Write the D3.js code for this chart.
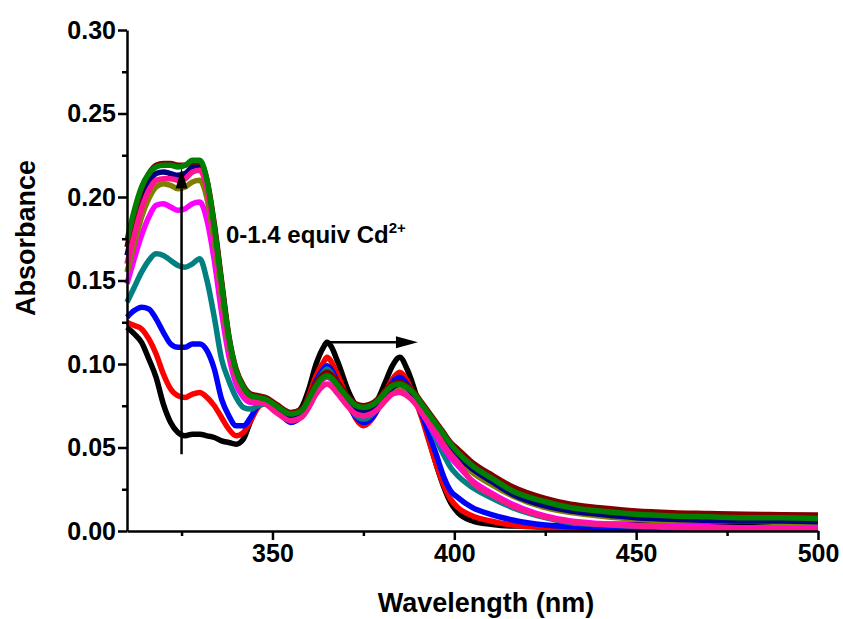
<!DOCTYPE html>
<html>
<head>
<meta charset="utf-8">
<script src="https://cdn.jsdelivr.net/npm/d3@7"></script>
<style>
  html, body { margin: 0; padding: 0; background: #fff; }
  svg { display: block; }
  text { font-family: "Liberation Sans", Arial, sans-serif; font-weight: bold; fill: #000; }
</style>
</head>
<body>
<svg id="chart" width="843" height="619"></svg>
<script>
// Wavelength grid (nm) shared by every spectrum
const wavelengths = [310,312,314,316,318,320,322,324,326,328,330,332,334,336,338,340,342,344,346,348,351,355,358,360,362,364,365,366,368,371,373,375,377,379,381,383,385,387,389,391,393,395,397,399,401,405,410,416,425,432,440,450,460,470,480,490,500];

// Absorbance spectra during the Cd2+ titration (0 → 1.4 equiv)
const abs00 = [0.122,0.118,0.113,0.103,0.092,0.076,0.065,0.059,0.057,0.058,0.058,0.057,0.056,0.054,0.053,0.052,0.055,0.066,0.075,0.078,0.074,0.069,0.074,0.085,0.100,0.110,0.113,0.111,0.101,0.083,0.075,0.072,0.073,0.079,0.089,0.099,0.104,0.097,0.085,0.070,0.055,0.040,0.027,0.017,0.011,0.006,0.004,0.003,0.003,0.004,0.004,0.004,0.005,0.005,0.005,0.005,0.005];
const abs02 = [0.125,0.123,0.121,0.115,0.106,0.094,0.085,0.081,0.080,0.082,0.083,0.080,0.075,0.068,0.061,0.057,0.059,0.066,0.074,0.077,0.073,0.066,0.071,0.081,0.093,0.101,0.104,0.102,0.093,0.077,0.067,0.063,0.066,0.073,0.083,0.091,0.095,0.090,0.080,0.068,0.054,0.040,0.028,0.019,0.014,0.009,0.006,0.0036,0.002,0.0015,0.001,0.001,0.001,0.001,0.001,0.001,0.001];
const abs04 = [0.128,0.132,0.134,0.133,0.127,0.119,0.112,0.110,0.110,0.112,0.112,0.108,0.097,0.079,0.069,0.063,0.063,0.068,0.075,0.077,0.073,0.065,0.069,0.078,0.090,0.097,0.099,0.097,0.089,0.075,0.068,0.065,0.067,0.073,0.082,0.089,0.092,0.088,0.080,0.070,0.058,0.046,0.033,0.024,0.020,0.014,0.010,0.0066,0.0036,0.0025,0.0015,0.001,0.001,0.001,0.001,0.001,0.001];
const abs06 = [0.137,0.146,0.155,0.162,0.166,0.165,0.162,0.159,0.158,0.160,0.163,0.150,0.128,0.103,0.090,0.080,0.074,0.073,0.075,0.076,0.072,0.066,0.069,0.077,0.088,0.095,0.097,0.095,0.088,0.076,0.069,0.067,0.069,0.074,0.081,0.086,0.088,0.085,0.080,0.073,0.064,0.055,0.046,0.038,0.033,0.026,0.020,0.014,0.008,0.005,0.004,0.003,0.003,0.002,0.002,0.002,0.002];
const abs08 = [0.148,0.163,0.177,0.188,0.195,0.196,0.194,0.192,0.193,0.196,0.197,0.186,0.162,0.131,0.105,0.088,0.080,0.077,0.077,0.077,0.072,0.067,0.069,0.076,0.085,0.091,0.092,0.091,0.085,0.075,0.070,0.069,0.070,0.074,0.080,0.084,0.086,0.083,0.078,0.071,0.064,0.057,0.050,0.044,0.039,0.030,0.023,0.016,0.009,0.006,0.0045,0.0035,0.003,0.0025,0.002,0.002,0.002];
const abs10 = [0.155,0.172,0.188,0.199,0.206,0.208,0.207,0.205,0.206,0.209,0.210,0.199,0.173,0.140,0.110,0.092,0.083,0.079,0.078,0.078,0.073,0.068,0.070,0.077,0.086,0.092,0.093,0.092,0.086,0.077,0.072,0.071,0.072,0.076,0.081,0.085,0.087,0.085,0.080,0.074,0.067,0.060,0.054,0.048,0.043,0.035,0.028,0.021,0.014,0.011,0.009,0.007,0.006,0.006,0.006,0.005,0.005];
const abs12 = [0.165,0.183,0.199,0.209,0.214,0.215,0.214,0.213,0.214,0.218,0.219,0.208,0.182,0.148,0.115,0.095,0.085,0.080,0.079,0.078,0.074,0.069,0.071,0.078,0.087,0.093,0.094,0.093,0.087,0.078,0.073,0.072,0.073,0.077,0.082,0.086,0.088,0.086,0.081,0.075,0.069,0.062,0.056,0.050,0.045,0.037,0.030,0.022,0.015,0.012,0.010,0.008,0.007,0.0065,0.006,0.006,0.0055];
const abs13 = [0.170,0.189,0.205,0.214,0.219,0.220,0.220,0.219,0.219,0.221,0.221,0.210,0.184,0.150,0.117,0.097,0.087,0.082,0.081,0.080,0.076,0.071,0.073,0.080,0.089,0.094,0.095,0.094,0.089,0.080,0.076,0.075,0.076,0.079,0.084,0.088,0.089,0.087,0.083,0.077,0.071,0.065,0.059,0.053,0.049,0.041,0.034,0.0265,0.0195,0.016,0.014,0.012,0.011,0.0105,0.010,0.0098,0.0096];
const abs11 = [0.160,0.177,0.193,0.204,0.210,0.211,0.211,0.210,0.211,0.215,0.216,0.205,0.178,0.144,0.112,0.093,0.083,0.078,0.077,0.076,0.071,0.066,0.068,0.074,0.082,0.087,0.088,0.087,0.082,0.074,0.070,0.069,0.070,0.073,0.078,0.082,0.083,0.081,0.077,0.071,0.065,0.059,0.052,0.046,0.041,0.029,0.022,0.015,0.0085,0.0055,0.004,0.003,0.002,0.0015,0.001,0.001,0.001];
const abs14 = [0.174,0.192,0.206,0.214,0.218,0.219,0.219,0.218,0.219,0.222,0.222,0.210,0.182,0.148,0.116,0.096,0.086,0.081,0.080,0.079,0.075,0.070,0.072,0.079,0.087,0.092,0.093,0.092,0.087,0.079,0.075,0.074,0.075,0.078,0.083,0.087,0.088,0.086,0.082,0.076,0.070,0.064,0.058,0.052,0.047,0.039,0.032,0.024,0.0175,0.014,0.012,0.010,0.009,0.0085,0.008,0.008,0.0075];

// Drawing order and colours (last one ends up on top)
const spectra = [abs00, abs02, abs04, abs06, abs08, abs10, abs12, abs13, abs11, abs14];
const colours = ["#000000", "#ff0000", "#0000ff", "#008080", "#ff00ff", "#808000", "#000080", "#800000", "#ff1493", "#008000"];

// Axis ticks
const xMajor = [350, 400, 450, 500];
const xMinor = [325, 375, 425, 475];
const yMajor = [0, 0.05, 0.10, 0.15, 0.20, 0.25, 0.30];
const yMinor = [0.025, 0.075, 0.125, 0.175, 0.225, 0.275];

// Annotation arrows: [x1, y1, x2, y2] in data units, the tip is the second point
const riseArrow = [325, 0.046, 325, 0.217];
const shiftArrow = [365, 0.113, 390, 0.113];

const svg = d3.select("#chart");
const x = d3.scaleLinear().domain([310, 500]).range([127, 818]);
const y = d3.scaleLinear().domain([0, 0.30]).range([531, 30]);

// Spectra
const line = d3.line()
  .x((d, i) => x(wavelengths[i]))
  .y(d => y(d))
  .curve(d3.curveMonotoneX);

svg.append("g")
  .selectAll("path")
  .data(spectra)
  .join("path")
  .attr("d", line)
  .attr("fill", "none")
  .attr("stroke", (d, i) => colours[i])
  .attr("stroke-width", 5.5)
  .attr("stroke-linejoin", "round")
  .attr("stroke-linecap", "butt");

// Axes
function styleAxis(g) {
  g.selectAll(".domain").attr("stroke", "#000").attr("stroke-width", 2.5);
  g.selectAll(".tick line").attr("stroke", "#000").attr("stroke-width", 2.5);
  g.selectAll("text").style("font-size", "25px").style("font-weight", "bold")
    .attr("font-family", "Liberation Sans, Arial, sans-serif");
}

const gx = svg.append("g").attr("transform", `translate(0,${y(0)})`);
gx.call(d3.axisBottom(x).tickValues(xMajor).tickSize(9).tickSizeOuter(0).tickPadding(4).tickFormat(d3.format("d")));
gx.append("g").call(d3.axisBottom(x).tickValues(xMinor).tickSize(5).tickSizeOuter(0).tickFormat(""))
  .select(".domain").remove();
styleAxis(gx);

const gy = svg.append("g").attr("transform", `translate(${x(310)},0)`);
gy.call(d3.axisLeft(y).tickValues(yMajor).tickSize(9).tickSizeOuter(0).tickPadding(2).tickFormat(d3.format(".2f")));
gy.append("g").call(d3.axisLeft(y).tickValues(yMinor).tickSize(5).tickSizeOuter(0).tickFormat(""))
  .select(".domain").remove();
styleAxis(gy);

// Axis titles
svg.append("text")
  .attr("x", 486).attr("y", 612)
  .attr("text-anchor", "middle")
  .style("font-size", "27px")
  .text("Wavelength (nm)");

svg.append("text")
  .attr("transform", "translate(35,238) rotate(-90)")
  .attr("text-anchor", "middle")
  .style("font-size", "27px")
  .text("Absorbance");

// Arrows
function arrow(a, headLen, headHalf) {
  const x1 = x(a[0]), y1 = y(a[1]), x2 = x(a[2]), y2 = y(a[3]);
  const ang = Math.atan2(y2 - y1, x2 - x1);
  const bx = x2 - headLen * Math.cos(ang), by = y2 - headLen * Math.sin(ang);
  svg.append("line")
    .attr("x1", x1).attr("y1", y1).attr("x2", bx).attr("y2", by)
    .attr("stroke", "#000").attr("stroke-width", 2.5);
  const px = -Math.sin(ang) * headHalf, py = Math.cos(ang) * headHalf;
  svg.append("path")
    .attr("d", `M${x2},${y2}L${bx + px},${by + py}L${bx - px},${by - py}Z`)
    .attr("fill", "#000");
}
arrow(riseArrow, 20, 6);
arrow(shiftArrow, 22, 6);

// Titration label
const label = svg.append("text")
  .attr("x", 226).attr("y", 243)
  .style("font-size", "24px");
label.append("tspan").text("0-1.4 equiv Cd");
label.append("tspan").attr("dy", -10).style("font-size", "15px").text("2+");
</script>
</body>
</html>
